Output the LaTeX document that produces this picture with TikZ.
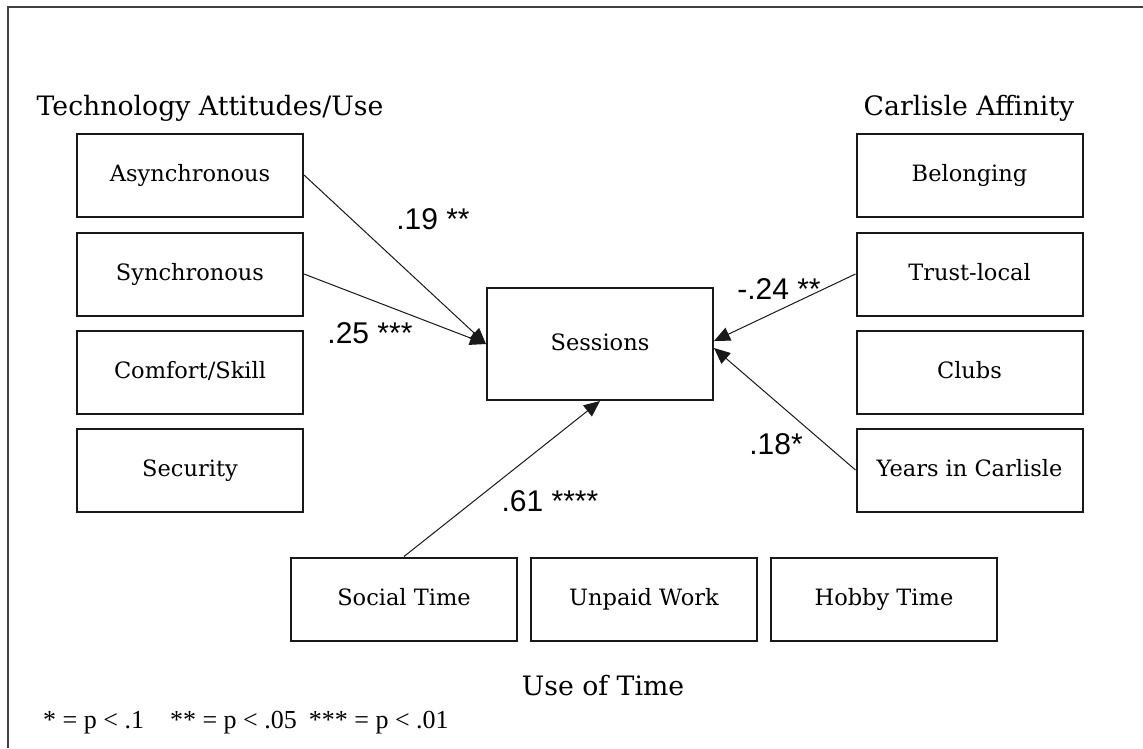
\documentclass[tikz,border=0pt]{standalone}
\usepackage{fontspec}
\setmainfont{DejaVu Serif}
\newfontfamily\lblfont{Liberation Sans}
\newfontfamily\notefont{Liberation Serif}
\usetikzlibrary{arrows.meta}
\tikzset{
  box/.style={draw=black!90, line width=2pt, minimum width=226pt, minimum height=83pt, inner sep=0pt, text height=16pt, text depth=4pt, font=\fontsize{22.5}{26}\selectfont},
  grouptitle/.style={anchor=base, inner sep=0pt, font=\fontsize{26.7}{30}\selectfont},
  edgelbl/.style={inner sep=0pt, font=\lblfont\fontsize{30}{34}\selectfont},
  conn/.style={draw=black!90, line width=1pt, -{Triangle[length=16pt,width=14pt]}},
}
\begin{document}
\begin{tikzpicture}[x=1pt,y=-1pt]
\useasboundingbox (0,0) rectangle (1143,748);
\fill[white] (0,0) rectangle (1143,748);
\draw[black!75, line width=2pt] (8,748) -- (8,7) -- (1143,7);

% group titles
\node[grouptitle] (ttech) at (210,115) {Technology Attitudes/Use};
\node[grouptitle] (tcarl) at (969,115) {Carlisle Affinity};
\node[grouptitle] (ttime) at (603,695) {Use of Time};

% left boxes
\node[box] (asyn) at (190,175) {Asynchronous};
\node[box] (syn)  at (190,274) {Synchronous};
\node[box] (comf) at (190,372) {Comfort/Skill};
\node[box] (sec)  at (190,470) {Security};

% right boxes
\node[box] (bel)   at (969.5,175) {Belonging};
\node[box] (trust) at (969.5,274) {Trust-local};
\node[box] (clubs) at (969.5,372) {Clubs};
\node[box] (years) at (969.5,470) {Years in Carlisle};

% centre
\node[box, minimum height=112pt] (sess) at (600,344) {Sessions};

% bottom boxes
\node[box] (social) at (404,599) {Social Time};
\node[box] (unpaid) at (644,599) {Unpaid Work};
\node[box] (hobby)  at (884,599) {Hobby Time};

% connectors
\draw[conn] (asyn.east) -- (sess.west);
\draw[conn] (syn.east) -- (sess.west);
\draw[conn] (trust.west) -- ([yshift=3pt]sess.east);
\draw[conn] (years.west) -- ([yshift=-4pt]sess.east);
\draw[conn] (social.north) -- (sess.south);

% connector labels
\node[edgelbl] (l19) at (433,219) {.19 **};
\node[edgelbl] (l25) at (370,333) {.25 ***};
\node[edgelbl] (l24) at (779,289) {-.24 **};
\node[edgelbl] (l18) at (776,444) {.18*};
\node[edgelbl] (l61) at (550,501) {.61 ****};

% footnote
\node[anchor=base west, inner sep=0pt, font=\notefont\fontsize{26}{30}\selectfont] (note) at (43,728) {* = p < .1\hspace{26pt}** = p < .05\hspace{12pt}*** = p < .01};
\end{tikzpicture}
\end{document}
